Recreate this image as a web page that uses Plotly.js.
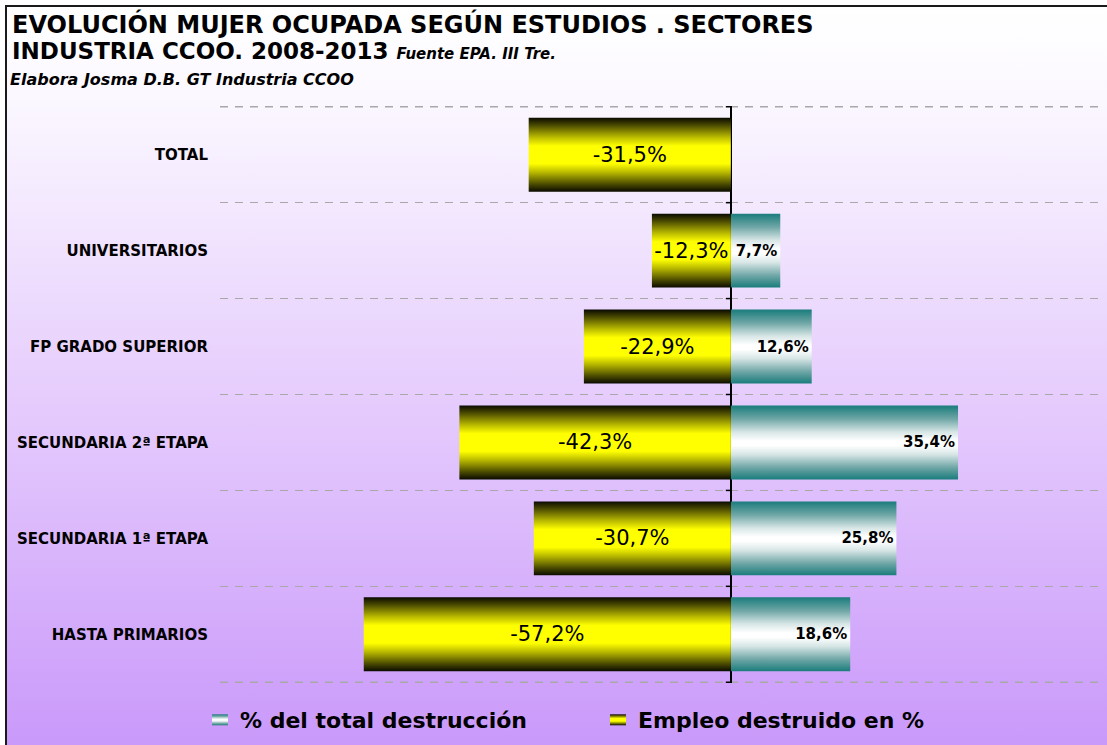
<!DOCTYPE html>
<html>
<head>
<meta charset="utf-8">
<script src="https://cdn.plot.ly/plotly-3.0.1.min.js"></script>
<style>
  html, body { margin:0; padding:0; background:#ffffff; width:1107px; height:745px; overflow:hidden; }
  #frame { position:absolute; left:5px; top:5px; width:1110px; height:745px;
           border-left:2px solid #1a1a1a; border-top:2px solid #1a1a1a;
           background: linear-gradient(to bottom, #ffffff 0%, #fbf8ff 12%, #e6cdfd 52%, #c998fa 100%); }
  #chart { position:absolute; left:0; top:0; width:1107px; height:745px; }
</style>
</head>
<body>
<div id="frame"></div>
<div id="chart"></div>
<script>
// ---- data ----
const categories = ['TOTAL', 'UNIVERSITARIOS', 'FP GRADO SUPERIOR', 'SECUNDARIA 2ª ETAPA', 'SECUNDARIA 1ª ETAPA', 'HASTA PRIMARIOS'];
const empleoDestruido = [-31.5, -12.3, -22.9, -42.3, -30.7, -57.2];   // Empleo destruido en %
const totalDestruccion = [null, 7.7, 12.6, 35.4, 25.8, 18.6];         // % del total destrucción
const seriesNames = ['% del total destrucción', 'Empleo destruido en %'];
const titleLine1 = 'EVOLUCIÓN MUJER OCUPADA SEGÚN ESTUDIOS . SECTORES';
const titleLine2 = 'INDUSTRIA CCOO. 2008-2013';
const sourceText = 'Fuente EPA. III Tre.';
const authorText = 'Elabora Josma D.B. GT Industria CCOO';

// ---- styling ----
const FONT = 'DejaVu Sans, Liberation Sans, Arial, sans-serif';
const BAR_W = 0.77;
const GRID = { color: '#a8a8a8', width: 1.5, dash: '8px,7px' };
const fmt = v => (v === null || v === undefined) ? '' : v.toFixed(1).replace('.', ',') + '%';

const gradients = {
  gradTeal: [[0, '#1a7c7c'], [0.18, '#6fa6a6'], [0.36, '#d8e6e6'], [0.48, '#ffffff'], [0.54, '#ffffff'],
             [0.66, '#d8e6e6'], [0.84, '#6fa6a6'], [1, '#1a7c7c']],
  gradYellow: [[0, '#0a0a00'], [0.1, '#4a4a00'], [0.26, '#b8b800'], [0.38, '#ffff00'], [0.62, '#ffff00'],
               [0.74, '#b8b800'], [0.9, '#4a4a00'], [1, '#0a0a00']]
};

const traces = [
  {
    type: 'bar', orientation: 'h', y: categories, x: totalDestruccion, width: BAR_W,
    name: seriesNames[0], legendrank: 1,
    marker: { color: '#9cc4c4', line: { width: 0 } },
    text: totalDestruccion.map(fmt), textposition: 'inside', insidetextanchor: 'end',
    constraintext: 'none', cliponaxis: false, hoverinfo: 'skip',
    textfont: { family: FONT, size: 15, color: '#000', weight: 'bold' }
  },
  {
    type: 'bar', orientation: 'h', y: categories, x: empleoDestruido, width: BAR_W,
    name: seriesNames[1], legendrank: 2,
    marker: { color: '#e0e000', line: { width: 0 } },
    text: empleoDestruido.map(fmt), textposition: 'inside', insidetextanchor: 'middle',
    constraintext: 'none', cliponaxis: false, hoverinfo: 'skip',
    textfont: { family: FONT, size: 21, color: '#000' }
  }
];

// small tick marks on the zero line at category boundaries + outer dashed gridlines
const shapes = [];
for (let i = 0; i <= categories.length; i++) {
  shapes.push({
    type: 'line', xref: 'x', yref: 'y', xsizemode: 'pixel', xanchor: 0,
    x0: -5, x1: 0, y0: i - 0.5, y1: i - 0.5,
    line: { color: '#000', width: 1.5 }
  });
}
[-0.5, categories.length - 0.5].forEach(yb => shapes.push({
  type: 'line', xref: 'paper', yref: 'y', x0: 0, x1: 1, y0: yb, y1: yb, layer: 'below',
  line: { color: GRID.color, width: GRID.width, dash: GRID.dash }
}));

const W = 1107, H = 745;
const M = { l: 220, r: 2, t: 106, b: 62 };
const plotW = W - M.l - M.r, plotH = H - M.t - M.b;
const px2x = px => (px - M.l) / plotW;
const py2y = py => (H - M.b - py) / plotH;

const layout = {
  width: W, height: H,
  margin: M,
  paper_bgcolor: 'rgba(0,0,0,0)',
  plot_bgcolor: 'rgba(0,0,0,0)',
  barmode: 'overlay',
  font: { family: FONT, color: '#000' },
  xaxis: {
    range: [-79.6, 58.3],
    showgrid: false, showticklabels: false, ticks: '',
    zeroline: true, zerolinecolor: '#000', zerolinewidth: 1.5,
    showline: false, fixedrange: true
  },
  yaxis: {
    type: 'category', categoryorder: 'array', categoryarray: categories,
    autorange: 'reversed',
    tickson: 'boundaries', ticks: '',
    showgrid: true, gridcolor: GRID.color, gridwidth: GRID.width, griddash: GRID.dash,
    showline: false, zeroline: false,
    ticklabelstandoff: 11,
    tickfont: { family: FONT, size: 15, weight: 'bold', color: '#000' },
    fixedrange: true
  },
  showlegend: true,
  legend: {
    orientation: 'h', x: px2x(200), xanchor: 'left', y: py2y(720), yanchor: 'middle',
    entrywidth: 353, entrywidthmode: 'pixels',
    font: { family: FONT, size: 22, weight: 'bold', color: '#000' },
    bgcolor: 'rgba(0,0,0,0)'
  },
  shapes: shapes,
  annotations: [
    { xref: 'paper', yref: 'paper', x: px2x(10), y: py2y(24), xanchor: 'left', yanchor: 'middle',
      showarrow: false, text: titleLine1,
      font: { family: FONT, size: 24, weight: 'bold', color: '#000' } },
    { xref: 'paper', yref: 'paper', x: px2x(10), y: py2y(51), xanchor: 'left', yanchor: 'middle',
      showarrow: false,
      text: titleLine2 + ' <span style="font-size:15px"><i>' + sourceText + '</i></span>',
      font: { family: FONT, size: 23, weight: 'bold', color: '#000' } },
    { xref: 'paper', yref: 'paper', x: px2x(8), y: py2y(80), xanchor: 'left', yanchor: 'middle',
      showarrow: false, text: '<i>' + authorText + '</i>',
      font: { family: FONT, size: 16, weight: 'bold', color: '#000' } }
  ]
};

Plotly.newPlot('chart', traces, layout, { displayModeBar: false, staticPlot: true }).then(gd => {
  // add vertical gradients (Excel-style cylinder shading) to bars and legend symbols
  const NS = 'http://www.w3.org/2000/svg';
  const svg = gd.querySelector('.main-svg');
  let defs = svg.querySelector('defs');
  if (!defs) { defs = document.createElementNS(NS, 'defs'); svg.insertBefore(defs, svg.firstChild); }
  Object.entries(gradients).forEach(([id, stops]) => {
    const lg = document.createElementNS(NS, 'linearGradient');
    lg.setAttribute('id', id);
    lg.setAttribute('x1', '0'); lg.setAttribute('y1', '0');
    lg.setAttribute('x2', '0'); lg.setAttribute('y2', '1');
    stops.forEach(([o, c]) => {
      const s = document.createElementNS(NS, 'stop');
      s.setAttribute('offset', o);
      s.setAttribute('stop-color', c);
      lg.appendChild(s);
    });
    defs.appendChild(lg);
  });
  const gradIds = ['gradTeal', 'gradYellow'];
  gd.querySelectorAll('.barlayer .trace.bars').forEach((tr, i) => {
    tr.querySelectorAll('.point path').forEach(p => { p.style.fill = 'url(#' + gradIds[i] + ')'; });
  });
  gd.querySelectorAll('.legend .traces').forEach(tr => {
    const t = tr.querySelector('.legendtext').textContent;
    const idx = seriesNames.indexOf(t);
    if (idx >= 0) tr.querySelectorAll('.legendpoints path').forEach(p => {
      p.setAttribute('d', 'M8,5.5H-8V-5.5H8Z');
      p.style.fill = 'url(#' + gradIds[idx] + ')';
    });
  });
});
</script>
</body>
</html>
